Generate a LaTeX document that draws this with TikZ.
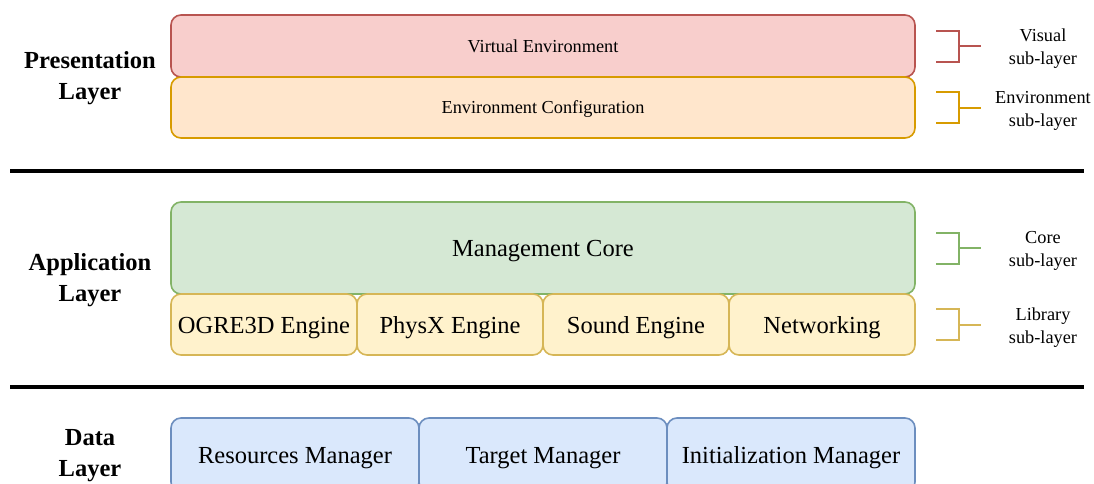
\documentclass[tikz,border=0pt]{standalone}
\usepackage{fontspec}
\setmainfont{Liberation Serif}
\usepackage{tikz}
\usetikzlibrary{positioning,calc}
\usepackage{xcolor}
\definecolor{VisRed}{HTML}{B85450}
\definecolor{VisRedLight}{HTML}{F8CECC}
\definecolor{EnvOrange}{HTML}{D79B00}
\definecolor{EnvOrangeLight}{HTML}{FFE6CC}
\definecolor{CoreGreen}{HTML}{82B366}
\definecolor{CoreGreenLight}{HTML}{D5E8D4}
\definecolor{LibYellow}{HTML}{D6B656}
\definecolor{LibYellowLight}{HTML}{FFF2CC}
\definecolor{DataBlue}{HTML}{6C8EBF}
\definecolor{DataBlueLight}{HTML}{DAE8FC}
\newcommand{\smallfont}{\fontsize{9.15}{11.5}\selectfont}
\newcommand{\bigfont}{\fontsize{12.25}{15.5}\selectfont}
\tikzset{
  layerbox/.style={rounded corners=5pt,line width=0.8pt,outer sep=0pt,inner sep=0pt,align=center},
  smalltext/.style={font=\smallfont,text height=6.3pt,text depth=0pt},
  bigtext/.style={font=\bigfont,text height=8.5pt,text depth=0pt},
  visbox/.style={layerbox,smalltext,draw=VisRed,fill=VisRedLight,minimum width=372pt,minimum height=31pt},
  envbox/.style={layerbox,smalltext,draw=EnvOrange,fill=EnvOrangeLight,minimum width=372pt,minimum height=30.5pt},
  corebox/.style={layerbox,bigtext,draw=CoreGreen,fill=CoreGreenLight,minimum width=372pt,minimum height=46pt},
  libbox/.style={layerbox,bigtext,draw=LibYellow,fill=LibYellowLight,minimum width=93pt,minimum height=30.5pt},
  databox/.style={layerbox,bigtext,draw=DataBlue,fill=DataBlueLight,minimum width=124pt,minimum height=37pt},
  layerlabel/.style={align=center,font=\bigfont\bfseries},
  sublabel/.style={align=center,font=\smallfont},
  bracket/.style={line width=1pt},
  sepline/.style={line width=2pt,draw=black}
}
\begin{document}
\begin{tikzpicture}
\useasboundingbox (0,0) rectangle (547pt,-241.5pt);
% presentation layer
\node[visbox] (vis) at (271.5pt,-23pt) {Virtual Environment};
\node[envbox,below=0pt of vis] (env) {Environment Configuration};
\node[layerlabel] (presl) at (45pt,-39.25pt) {Presentation\\Layer};
% application layer
\node[corebox] (core) at (271.5pt,-124pt) {Management Core};
\node[libbox,anchor=north west] (ogre) at (core.south west) {OGRE3D Engine};
\node[libbox,right=0pt of ogre] (physx) {PhysX Engine};
\node[libbox,right=0pt of physx] (sound) {Sound Engine};
\node[libbox,right=0pt of sound] (net) {Networking};
\node[layerlabel] (appl) at (45pt,-140.25pt) {Application\\Layer};
% data layer
\node[databox,anchor=north west] (res) at (85.5pt,-209pt) {Resources Manager};
\node[databox,right=0pt of res] (target) {Target Manager};
\node[databox,right=0pt of target] (init) {Initialization Manager};
\node[layerlabel] (datal) at (45pt,-227.75pt) {Data\\Layer};
% separators
\coordinate (sepAl) at (5pt,-85.5pt);
\coordinate (sepAr) at (542pt,-85.5pt);
\coordinate (sepBl) at (5pt,-193.5pt);
\coordinate (sepBr) at (542pt,-193.5pt);
\draw[sepline] (sepAl) -- (sepAr);
\draw[sepline] (sepBl) -- (sepBr);
% sub-layer brackets
\node[sublabel] (visl) at ([shift={(64pt,-1.5pt)}]vis.east) {Visual\\sub-layer};
\node[sublabel] (envl) at ([shift={(64pt,-1.5pt)}]env.east) {Environment\\sub-layer};
\node[sublabel] (corel) at ([shift={(64pt,-1.5pt)}]core.east) {Core\\sub-layer};
\node[sublabel] (libl) at ([shift={(64pt,-1.5pt)}]net.east) {Library\\sub-layer};
\draw[bracket,draw=VisRed] ([shift={(10.5pt,7.75pt)}]vis.east) -| ([shift={(22pt,-7.75pt)}]vis.east) -- ([shift={(10.5pt,-7.75pt)}]vis.east) ([xshift=22pt]vis.east) -- ([xshift=33pt]vis.east);
\draw[bracket,draw=EnvOrange] ([shift={(10.5pt,7.75pt)}]env.east) -| ([shift={(22pt,-7.75pt)}]env.east) -- ([shift={(10.5pt,-7.75pt)}]env.east) ([xshift=22pt]env.east) -- ([xshift=33pt]env.east);
\draw[bracket,draw=CoreGreen] ([shift={(10.5pt,7.75pt)}]core.east) -| ([shift={(22pt,-7.75pt)}]core.east) -- ([shift={(10.5pt,-7.75pt)}]core.east) ([xshift=22pt]core.east) -- ([xshift=33pt]core.east);
\draw[bracket,draw=LibYellow] ([shift={(10.5pt,7.75pt)}]net.east) -| ([shift={(22pt,-7.75pt)}]net.east) -- ([shift={(10.5pt,-7.75pt)}]net.east) ([xshift=22pt]net.east) -- ([xshift=33pt]net.east);
\end{tikzpicture}
\end{document}
